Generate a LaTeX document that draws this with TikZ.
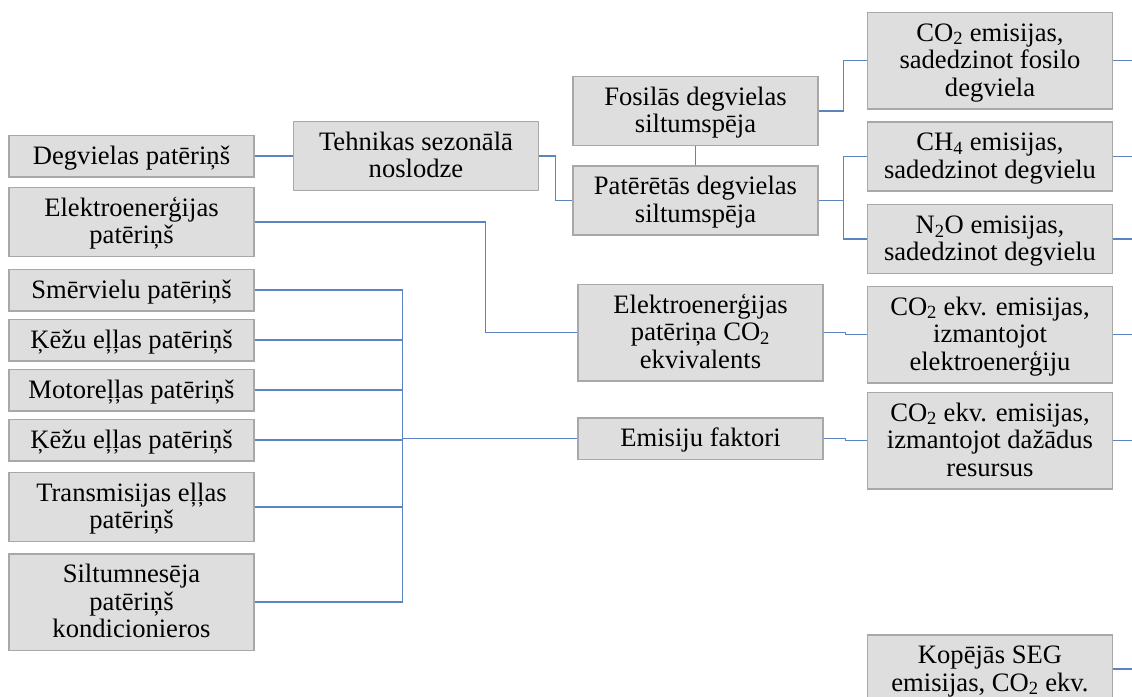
\documentclass[tikz,border=0pt]{standalone}
\usepackage{fontspec}
\setmainfont{Liberation Serif}
\usepackage{tikz}

\definecolor{boxfill}{HTML}{DEDEDE}
\definecolor{boxline}{HTML}{A8A8A8}
\definecolor{link}{HTML}{5B85C0}

\begin{document}
\begin{tikzpicture}[x=1pt,y=-1pt,
    box/.style={draw=boxline,
        fill=boxfill,
        line width=1.5pt,
        minimum width=245pt,
        inner ysep=7pt,
        text height=21.75pt,
        text depth=5.75pt,
        align=center,
        font=\fontsize{26.6}{27.5}\selectfont},
    two/.style={text height=49.25pt},
    three/.style={text height=76.75pt},
    wire/.style={draw=link, line width=1.3pt}]

        \clip (0,0) rectangle (1132,696);

        % Left column
        \node [box] (degv) at (131.5,156) {Degvielas patēriņš};
        \node [box, two] (elek) at (131.5,222) {Elektroenerģijas\\patēriņš};
        \node [box] (smerv) at (131.5,290) {Smērvielu patēriņš};
        \node [box] (kezuA) at (131.5,340) {Ķēžu eļļas patēriņš};
        \node [box] (motor) at (131.5,390) {Motoreļļas patēriņš};
        \node [box] (kezuB) at (131.5,440) {Ķēžu eļļas patēriņš};
        \node [box, two] (trans) at (131.5,507) {Transmisijas eļļas\\patēriņš};
        \node [box, three] (silt) at (131.5,602) {Siltumnesēja\\patēriņš\\kondicionieros};

        % Middle column
        \node [box, two] (tehn) at (416,156) {Tehnikas sezonālā\\noslodze};
        \node [box, two] (fosil) at (695.5,111) {Fosilās degvielas\\siltumspēja};
        \node [box, two] (pater) at (695.5,200.5) {Patērētās degvielas\\siltumspēja};
        \node [box, three] (elco) at (700.5,332.5) {Elektroenerģijas\\patēriņa CO\textsubscript{2}\\ekvivalents};
        \node [box] (emis) at (700.5,438.5) {Emisiju faktori};

        % Right column
        \node [box, three] (cofos) at (990,60.5) {CO\textsubscript{2} emisijas,\\sadedzinot fosilo\\degviela};
        \node [box, two] (chd) at (990,156.5) {CH\textsubscript{4} emisijas,\\sadedzinot degvielu};
        \node [box, two] (nod) at (990,239) {N\textsubscript{2}O emisijas,\\sadedzinot degvielu};
        \node [box, three] (coel) at (990,334.5) {CO\textsubscript{2} ekv. emisijas,\\izmantojot\\elektroenerģiju};
        \node [box, three] (cores) at (990,440.5) {CO\textsubscript{2} ekv. emisijas,\\izmantojot dažādus\\resursus};
        \node [box, two, anchor=north, text depth=60pt] (kop) at (990,634) {Kopējās SEG\\emisijas, CO\textsubscript{2} ekv.};

        % Connectors
        \coordinate (bus) at (402.5,0);
        \draw [wire] (degv.east) -- (tehn.west);
        \draw [wire] (tehn.east) -- ++(16,0) |- (pater.west);
        \draw [wire] (elek.east) -- ++(231,0) |- (elco.west);
        \foreach \n in {smerv,kezuA,motor,kezuB,trans,silt}
            \draw [wire] (\n.east) -- (\n.east -| bus);
        \draw [wire] (smerv.east -| bus) -- (silt.east -| bus);
        \draw [wire] (emis.west -| bus) -- (emis.west);
        \draw [wire] (fosil.south) -- (pater.north);
        \draw [wire] (fosil.east) -- ++(25,0) |- (cofos.west);
        \draw [wire] (pater.east) -- ++(25,0) |- (chd.west);
        \draw [wire] (pater.east) -- ++(25,0) |- (nod.west);
        \draw [wire] (elco.east) -- ++(22,0) |- (coel.west);
        \draw [wire] (emis.east) -- ++(22,0) |- (cores.west);

        % Outgoing stubs
        \foreach \n in {cofos,chd,nod,coel,cores}
            \draw [wire] (\n.east) -- ++(30,0);
        \draw [wire] (kop.east |- 0,669) -- ++(30,0);

\end{tikzpicture}
\end{document}
